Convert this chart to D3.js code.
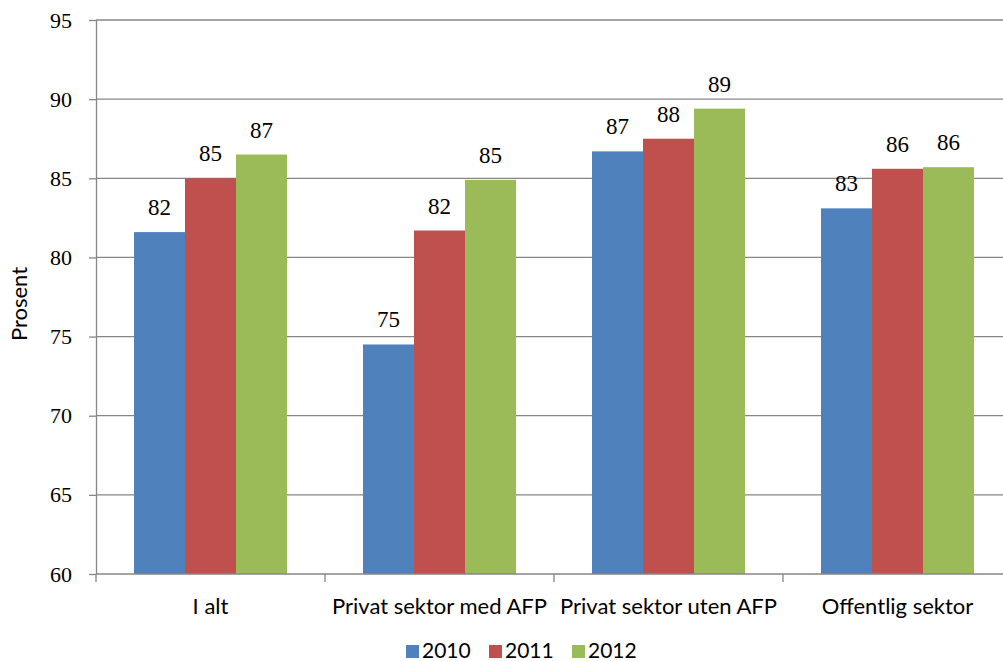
<!DOCTYPE html>
<html>
<head>
<meta charset="utf-8">
<script src="https://cdn.jsdelivr.net/npm/d3@7"></script>
<style>
  body { margin: 0; background: #fff; }
  svg { display: block; }
</style>
</head>
<body>
<svg id="chart" width="1003" height="661"></svg>
<script>
// data
const categories = ["I alt", "Privat sektor med AFP", "Privat sektor uten AFP", "Offentlig sektor"];
const years = ["2010", "2011", "2012"];
const v2010 = [81.6, 74.5, 86.7, 83.1];
const v2011 = [85.0, 81.7, 87.5, 85.6];
const v2012 = [86.5, 84.9, 89.4, 85.7];
const yTicks = [60, 65, 70, 75, 80, 85, 90, 95];
const colors = ["#4f81bd", "#c0504d", "#9bbb59"];

const series = [v2010, v2011, v2012];
const rows = categories.map((c, i) => ({
  cat: c,
  vals: years.map((yr, j) => ({ year: yr, value: series[j][i] }))
}));

const width = 1003, height = 661;
const plotLeft = 96, plotRight = 1012, plotTop = 20, plotBottom = 574;

const svg = d3.select("#chart");

const x0 = d3.scaleBand().domain(categories).range([plotLeft, plotRight]).padding(0);
const x1 = d3.scaleBand().domain(years).range([38, x0.bandwidth() - 38]).padding(0);
const y = d3.scaleLinear().domain([60, 95]).range([plotBottom, plotTop]);
const color = d3.scaleOrdinal().domain(years).range(colors);

const gridColor = "#868686";

// gridlines
svg.append("g")
  .selectAll("line")
  .data(yTicks.filter(t => t > 60))
  .enter().append("line")
    .attr("x1", plotLeft).attr("x2", width)
    .attr("y1", d => y(d)).attr("y2", d => y(d))
    .attr("stroke", gridColor)
    .attr("stroke-width", 1.3);

// bars
const groups = svg.append("g")
  .selectAll("g")
  .data(rows)
  .enter().append("g")
    .attr("transform", d => "translate(" + x0(d.cat) + ",0)");

groups.selectAll("rect")
  .data(d => d.vals)
  .enter().append("rect")
    .attr("x", d => x1(d.year))
    .attr("width", x1.bandwidth())
    .attr("y", d => y(d.value))
    .attr("height", d => y(60) - y(d.value))
    .attr("fill", d => color(d.year));

groups.selectAll("text")
  .data(d => d.vals)
  .enter().append("text")
    .attr("x", d => x1(d.year) + x1.bandwidth() / 2)
    .attr("y", d => y(d.value) - 17)
    .attr("text-anchor", "middle")
    .attr("font-family", "'Liberation Serif', serif")
    .attr("font-size", 23)
    .attr("fill", "#000")
    .text(d => Math.round(d.value));

// y axis
const yAxis = svg.append("g")
  .attr("transform", "translate(" + plotLeft + ",0)")
  .call(d3.axisLeft(y).tickValues(yTicks).tickSize(7).tickPadding(17).tickSizeOuter(0));
yAxis.select(".domain").attr("stroke", gridColor).attr("stroke-width", 1.3);
yAxis.selectAll(".tick line").attr("stroke", gridColor).attr("stroke-width", 1.3);
yAxis.selectAll(".tick text")
  .attr("font-family", "'Liberation Serif', serif")
  .attr("font-size", 22)
  .attr("fill", "#000");

// x axis: labels at band centres, ticks between categories
const xAxis = svg.append("g")
  .attr("transform", "translate(0," + plotBottom + ")")
  .call(d3.axisBottom(x0).tickSize(0).tickPadding(24).tickSizeOuter(0));
xAxis.select(".domain").attr("stroke", gridColor).attr("stroke-width", 1.3)
  .attr("d", "M" + plotLeft + ",0H" + width);
xAxis.selectAll(".tick text")
  .attr("font-family", "Lato, sans-serif")
  .attr("font-size", 22)
  .attr("fill", "#000");
xAxis.selectAll(".sep")
  .data(categories)
  .enter().append("line")
    .attr("class", "sep")
    .attr("x1", d => x0(d)).attr("x2", d => x0(d))
    .attr("y1", 0).attr("y2", 8)
    .attr("stroke", gridColor)
    .attr("stroke-width", 1.3);

// y title
svg.append("text")
  .attr("transform", "translate(27,304) rotate(-90)")
  .attr("text-anchor", "middle")
  .attr("font-family", "Lato, sans-serif")
  .attr("font-size", 22)
  .attr("fill", "#000")
  .text("Prosent");

// legend
const legend = svg.append("g").attr("transform", "translate(406,0)");
const item = legend.selectAll("g")
  .data(years)
  .enter().append("g")
    .attr("transform", (d, i) => "translate(" + (i * 83) + ",0)");
item.append("rect")
  .attr("x", 0).attr("y", 645)
  .attr("width", 13).attr("height", 13)
  .attr("fill", d => color(d));
item.append("text")
  .attr("x", 16).attr("y", 658)
  .attr("font-family", "Lato, sans-serif")
  .attr("font-size", 21)
  .attr("fill", "#000")
  .text(d => d);
</script>
</body>
</html>
